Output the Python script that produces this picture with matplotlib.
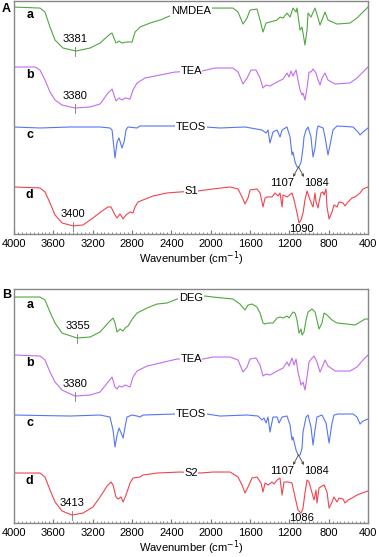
import numpy as np
import matplotlib
matplotlib.use('Agg')
import matplotlib.pyplot as plt
from matplotlib.ticker import MultipleLocator

plt.rcParams['font.family'] = ['Liberation Sans', 'DejaVu Sans']

# --- Panel A: NMDEA, TEA, TEOS, S1 (transmittance, a.u., stacked) ---
nmdea_wn = [4000, 3736, 3685, 3634, 3583, 3502, 3369, 3227, 3125, 3024, 3003, 2963, 2932, 2902, 2861,
            2800, 2769, 2719, 2617, 2515, 2444, 2393, 2210, 1986, 1773, 1722, 1671, 1630, 1600, 1529,
            1498, 1468, 1437, 1397, 1325, 1295, 1264, 1224, 1193, 1163, 1132, 1122, 1091, 1071, 1041,
            1020, 1010, 980, 939, 908, 888, 857, 837, 807, 715, 583, 512, 451, 400]
nmdea_t = [227, 226, 222, 207, 194, 186, 183, 186, 191, 200, 201, 191, 193, 191, 192,
           192, 202, 207, 211, 214, 217, 219, 223, 226, 226, 222, 210, 216, 224, 225,
           214, 202, 211, 212, 214, 217, 216, 221, 217, 226, 222, 226, 204, 207, 189,
           204, 221, 217, 226, 216, 209, 217, 222, 214, 210, 211, 216, 222, 227]

teaA_wn = [4000, 3786, 3736, 3685, 3634, 3583, 3512, 3380, 3227, 3125, 3044, 3003, 2973, 2963, 2932,
           2902, 2871, 2820, 2790, 2749, 2668, 2515, 2363, 2088, 1956, 1773, 1722, 1671, 1630, 1590,
           1539, 1498, 1468, 1437, 1397, 1325, 1264, 1224, 1203, 1183, 1163, 1132, 1112, 1091, 1071,
           1061, 1041, 1020, 1000, 980, 959, 929, 908, 888, 868, 837, 807, 735, 583, 512, 451, 400]
teaA_t = [167, 167, 164, 154, 142, 134, 129, 126, 127, 130, 141, 145, 136, 133, 136,
          134, 136, 135, 144, 151, 156, 159, 162, 163, 166, 166, 162, 150, 156, 164,
          164, 156, 146, 149, 148, 152, 155, 161, 157, 163, 158, 164, 154, 144, 139,
          141, 134, 146, 162, 162, 165, 161, 154, 149, 156, 161, 154, 150, 151, 156, 162, 167]

teosA_wn = [4000, 3736, 3430, 3125, 3024, 3003, 2973, 2952, 2932, 2902, 2881, 2861, 2841, 2749, 2719,
            2363, 2057, 1905, 1651, 1478, 1437, 1417, 1397, 1366, 1325, 1295, 1274, 1224, 1193, 1173,
            1163, 1142, 1122, 1102, 1081, 1061, 1051, 1030, 1010, 980, 969, 959, 939, 919, 908,
            857, 837, 807, 776, 756, 715, 552, 502, 481, 451, 400]
teosA_t = [107, 106, 107, 107, 106, 104, 76, 92, 96, 86, 92, 104, 107, 106, 108,
           108, 107, 106, 107, 104, 101, 104, 91, 102, 104, 97, 104, 107, 97, 79,
           82, 72, 67, 67, 72, 86, 97, 104, 107, 97, 86, 77, 86, 104, 108,
           106, 97, 79, 94, 104, 108, 107, 102, 99, 102, 106]

s1_wn = [4000, 3736, 3685, 3634, 3583, 3512, 3400, 3298, 3197, 3105, 3044, 3014, 2973, 2952, 2922,
         2891, 2861, 2820, 2790, 2769, 2739, 2688, 2586, 2444, 2312, 2129, 1976, 1803, 1722, 1681,
         1651, 1620, 1600, 1529, 1498, 1478, 1468, 1447, 1427, 1376, 1346, 1315, 1295, 1274, 1264,
         1224, 1173, 1152, 1122, 1102, 1081, 1061, 1041, 1020, 1000, 969, 959, 939, 929, 908,
         898, 878, 857, 847, 827, 817, 796, 766, 746, 715, 695, 654, 634, 603, 563,
         532, 481, 451, 400]
s1_t = [47, 46, 42, 31, 19, 11, 8, 9, 16, 23, 27, 27, 19, 16, 20,
        15, 19, 22, 21, 27, 32, 34, 38, 41, 42, 43, 45, 47, 45, 37,
        30, 36, 44, 45, 41, 32, 27, 36, 37, 37, 41, 38, 41, 27, 39,
        37, 41, 34, 21, 11, 14, 21, 34, 43, 37, 29, 27, 41, 32, 26,
        32, 41, 42, 39, 45, 27, 15, 22, 29, 27, 32, 31, 28, 32, 36,
        37, 41, 45, 47]

# --- Panel B: DEG, TEA, TEOS, S2 ---
deg_wn = [4000, 3736, 3685, 3634, 3583, 3512, 3359, 3227, 3125, 3044, 2993, 2973, 2952, 2922, 2891,
          2871, 2841, 2790, 2749, 2647, 2546, 2444, 2342, 2058, 1976, 1874, 1773, 1702, 1651, 1620,
          1580, 1529, 1498, 1468, 1447, 1417, 1366, 1325, 1295, 1264, 1224, 1203, 1163, 1142, 1122,
          1102, 1081, 1071, 1051, 1030, 1010, 969, 939, 919, 898, 868, 847, 817, 766, 715,
          613, 532, 481, 430, 400]
deg_t = [226, 226, 223, 211, 200, 190, 185, 186, 191, 200, 205, 200, 191, 194, 192,
         195, 197, 205, 210, 215, 219, 220, 224, 227, 226, 225, 224, 219, 213, 218,
         219, 216, 210, 200, 199, 200, 200, 205, 206, 205, 207, 205, 211, 210, 203,
         190, 194, 188, 191, 203, 211, 214, 211, 203, 194, 200, 210, 208, 203, 200,
         199, 198, 201, 204, 204]

teaB_wn = [4000, 3736, 3685, 3634, 3583, 3512, 3380, 3227, 3125, 3044, 3003, 2973, 2952, 2932, 2902,
           2871, 2820, 2790, 2749, 2647, 2515, 2342, 2078, 1976, 1803, 1722, 1671, 1630, 1600, 1539,
           1498, 1468, 1437, 1397, 1325, 1264, 1224, 1203, 1173, 1152, 1132, 1112, 1081, 1061, 1041,
           1020, 1000, 969, 949, 919, 888, 857, 837, 807, 735, 583, 512, 451, 400]
teaB_t = [168, 167, 163, 151, 141, 133, 127, 128, 131, 141, 146, 136, 134, 137, 136,
          138, 136, 146, 152, 157, 160, 164, 164, 166, 166, 163, 151, 156, 164, 165,
          158, 147, 149, 148, 152, 155, 161, 157, 165, 158, 164, 151, 138, 141, 133,
          146, 161, 165, 167, 161, 151, 158, 163, 157, 152, 152, 156, 163, 168]

teosB_wn = [4000, 3430, 3125, 3024, 2993, 2973, 2952, 2932, 2902, 2891, 2871, 2851, 2800, 2749, 2719,
            2688, 2363, 2037, 1905, 1630, 1519, 1478, 1458, 1437, 1417, 1397, 1366, 1325, 1305, 1274,
            1224, 1193, 1173, 1163, 1132, 1112, 1091, 1071, 1061, 1030, 1010, 980, 959, 939, 919,
            868, 827, 796, 766, 746, 705, 552, 512, 481, 451, 400]
teosB_t = [108, 107, 108, 106, 93, 76, 88, 95, 88, 85, 96, 106, 108, 107, 106,
           108, 109, 109, 107, 108, 107, 103, 105, 100, 106, 91, 106, 106, 100, 106,
           107, 98, 83, 86, 73, 68, 68, 75, 91, 106, 108, 96, 78, 93, 106,
           108, 100, 80, 100, 108, 109, 109, 106, 99, 102, 104]

s2_wn = [4000, 3736, 3685, 3634, 3583, 3512, 3410, 3298, 3197, 3125, 3054, 3014, 2993, 2963, 2942,
         2912, 2891, 2861, 2820, 2790, 2719, 2688, 2546, 2312, 2108, 1976, 1803, 1722, 1681, 1651,
         1620, 1580, 1529, 1488, 1468, 1447, 1417, 1376, 1356, 1325, 1295, 1274, 1254, 1213, 1173,
         1142, 1112, 1081, 1061, 1041, 1020, 1000, 969, 949, 929, 919, 898, 868, 847, 817,
         796, 766, 746, 715, 695, 654, 634, 603, 563, 512, 461, 400]
s2_t = [50, 50, 46, 33, 21, 12, 8, 10, 16, 26, 37, 41, 38, 26, 24,
        26, 21, 28, 40, 45, 46, 48, 50, 51, 50, 51, 51, 46, 38, 30,
        36, 45, 46, 40, 31, 40, 38, 41, 39, 43, 45, 28, 41, 41, 40,
        26, 13, 10, 15, 30, 43, 41, 30, 23, 33, 20, 35, 37, 38, 31,
        15, 21, 26, 21, 25, 24, 20, 23, 25, 28, 30, 32]

names_A = ['NMDEA', 'TEA', 'TEOS', 'S1']
names_B = ['DEG', 'TEA', 'TEOS', 'S2']
letters = ['a', 'b', 'c', 'd']
colors = ['#4fa83d', '#c36cf0', '#5676f3', '#f2434f']

# O-H band maxima (curves a, b, d) and Si-O-Si band of the product
oh_peaks_A = [3381, 3380, 3400]
oh_peaks_B = [3355, 3380, 3413]
sio_A = 1090
sio_B = 1086
teos_split = [1107, 1084]

fig = plt.figure(figsize=(3.79, 5.57), dpi=100)
axA = fig.add_axes([0.037, 0.580, 0.934, 0.419])
axB = fig.add_axes([0.037, 0.061, 0.934, 0.421])


def draw_panel(ax, curves, names, oh_peaks, sio, ylim):
    for (wn, t), name, letter, c in zip(curves, names, letters, colors):
        ax.plot(wn, t, color=c, lw=0.8)
        lab_y = np.interp(2200, wn[::-1], t[::-1])
        ax.text(2200, lab_y, name, fontsize=8, ha='center', va='center',
                bbox=dict(facecolor='white', edgecolor='none', pad=0.5))
        ax.text(3840, t[0] - 8, letter, fontsize=9, fontweight='bold', ha='center', va='center')

    # O-H stretch markers on curves a, b, d
    for (wn, t), p in zip([curves[0], curves[1], curves[3]], oh_peaks):
        v = np.interp(p, wn[::-1], t[::-1])
        ax.plot([p, p], [v - 5, v + 4], color='#777777', lw=0.6)
        ax.text(p, v + 12, str(p), fontsize=8, ha='center', va='center')

    # split Si-O band of TEOS
    wn, t = curves[2]
    dip = min(t)
    for end in (1163, 1051):
        ax.annotate('', xy=(end, dip - 10), xytext=(1107, dip),
                    arrowprops=dict(arrowstyle='->', color='#444444', lw=0.6,
                                    mutation_scale=4, shrinkA=0, shrinkB=0))
    ax.text(1274, dip - 16, str(teos_split[0]), fontsize=8, ha='center', va='center')
    ax.text(928, dip - 16, str(teos_split[1]), fontsize=8, ha='center', va='center')

    # Si-O-Si band of the product
    ax.text(1081, 5, str(sio), fontsize=8, ha='center', va='center')

    ax.set_xlim(4000, 400)
    ax.set_ylim(*ylim)
    ax.set_yticks([])
    ax.xaxis.set_major_locator(MultipleLocator(400))
    ax.xaxis.set_minor_locator(MultipleLocator(40))
    ax.tick_params(axis='x', which='both', direction='in', colors='#777777',
                   labelcolor='black', labelsize=8, pad=3.5)
    ax.tick_params(axis='x', which='major', length=3)
    ax.tick_params(axis='x', which='minor', length=1.5)
    for s in ax.spines.values():
        s.set_color('#888888')
        s.set_linewidth(1.0)
    ax.set_xlabel('Wavenumber (cm$^{-1}$)', fontsize=8, labelpad=0.5)


draw_panel(axA, [(nmdea_wn, nmdea_t), (teaA_wn, teaA_t), (teosA_wn, teosA_t), (s1_wn, s1_t)],
           names_A, oh_peaks_A, sio_A, (0, 233.5))
draw_panel(axB, [(deg_wn, deg_t), (teaB_wn, teaB_t), (teosB_wn, teosB_t), (s2_wn, s2_t)],
           names_B, oh_peaks_B, sio_B, (0, 234.5))

fig.text(6 / 379, 1 - 9 / 557, 'A', fontsize=9, fontweight='bold', ha='center', va='center')
fig.text(7 / 379, 1 - 295 / 557, 'B', fontsize=9, fontweight='bold', ha='center', va='center')

fig.savefig('out.png', dpi=100)
